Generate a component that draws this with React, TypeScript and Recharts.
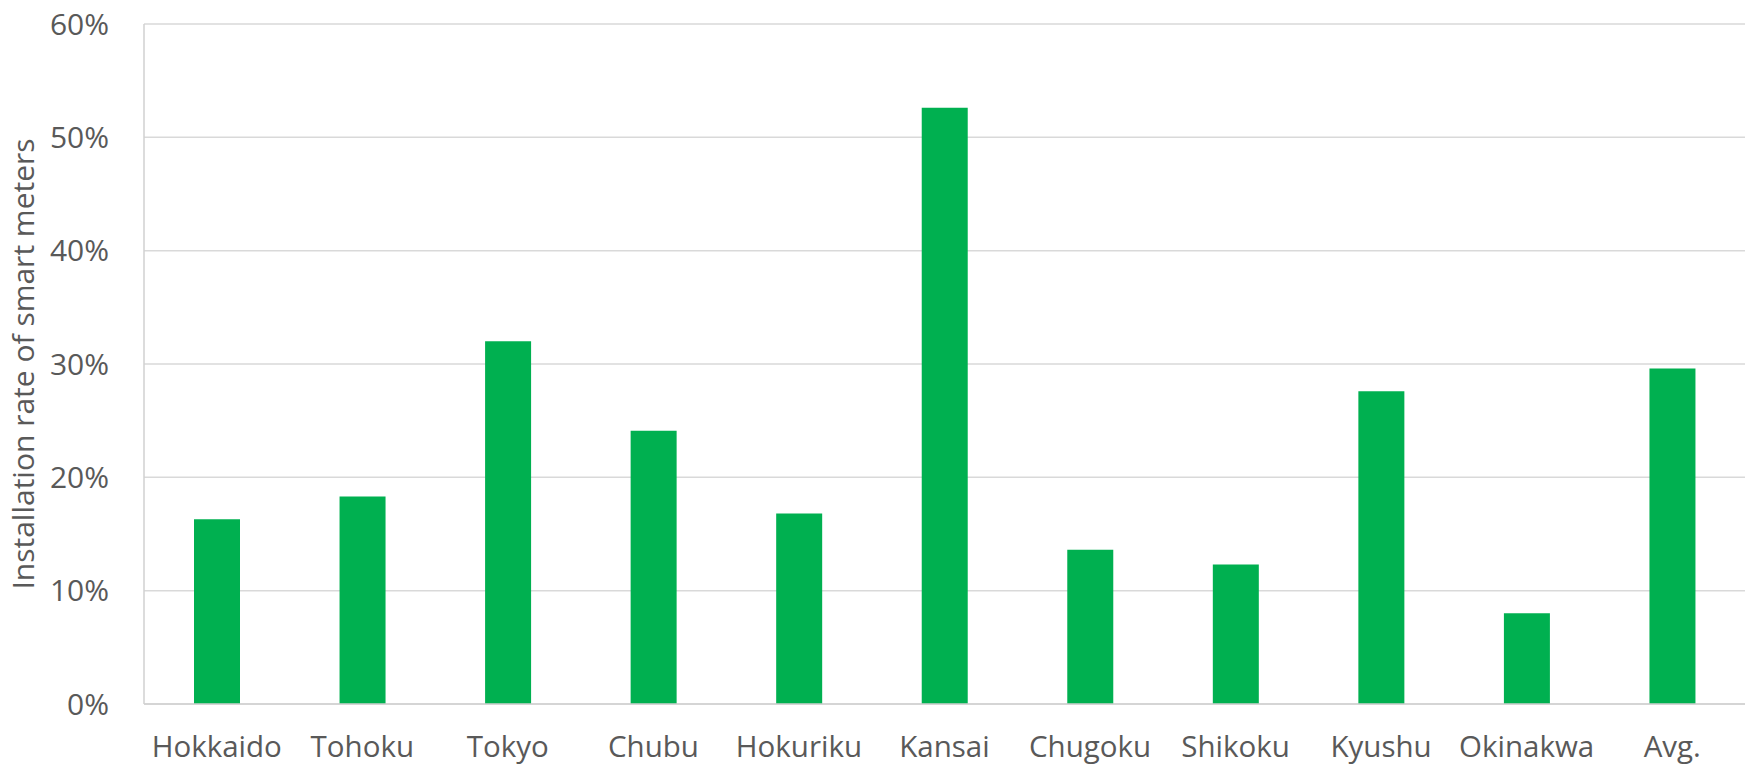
import React from "react";
import {
  Bar,
  BarChart,
  CartesianGrid,
  XAxis,
  YAxis
} from "recharts";

const regions = [
  "Hokkaido",
  "Tohoku",
  "Tokyo",
  "Chubu",
  "Hokuriku",
  "Kansai",
  "Chugoku",
  "Shikoku",
  "Kyushu",
  "Okinakwa",
  "Avg."
];
const rates = [16.3, 18.3, 32.0, 24.1, 16.8, 52.6, 13.6, 12.3, 27.6, 8.0, 29.6];
const yTicks = [0, 10, 20, 30, 40, 50, 60];

const data = regions.map((region, i) => ({ region, rate: rates[i] }));

const textColor = "#595959";
const font = "'Open Sans', 'Noto Sans', sans-serif";

export default function App() {
  return (
    <div style={{ position: "absolute", left: 0, top: 0, background: "#fff" }}>
      <BarChart
        width={1746}
        height={766}
        data={data}
        margin={{ top: 24, right: 1, bottom: 0, left: 0 }}
        style={{ fontFamily: font }}
      >
        <CartesianGrid vertical={false} stroke="#d9d9d9" strokeWidth={1.5} />
        <XAxis
          dataKey="region"
          height={62}
          tickLine={false}
          tickSize={0}
          tickMargin={32}
          axisLine={{ stroke: "#d0d0d0", strokeWidth: 1.5 }}
          tick={{ fill: textColor, fontSize: 29.5 }}
          interval={0}
        />
        <XAxis
          xAxisId="top"
          orientation="top"
          dataKey="region"
          height={0}
          tick={false}
          tickLine={false}
          axisLine={{ stroke: "#c4c4c4", strokeWidth: 1.5 }}
        />
        <YAxis
          width={144}
          domain={[0, 60]}
          ticks={yTicks}
          tickFormatter={(v: number) => `${v}%`}
          tickLine={false}
          tickSize={0}
          tickMargin={35}
          axisLine={{ stroke: "#d0d0d0", strokeWidth: 1.5 }}
          tick={{ fill: textColor, fontSize: 30 }}
          label={{
            value: "Installation rate of smart meters",
            angle: -90,
            position: "center",
            dx: -49,
            dy: 0,
            fill: textColor,
            fontSize: 30
          }}
        />
        <YAxis
          yAxisId="right"
          orientation="right"
          width={0}
          domain={[0, 60]}
          tick={false}
          tickLine={false}
          axisLine={{ stroke: "#c4c4c4", strokeWidth: 1.5 }}
        />
        <Bar dataKey="rate" fill="#00b050" barSize={46} isAnimationActive={false} />
      </BarChart>
    </div>
  );
}
